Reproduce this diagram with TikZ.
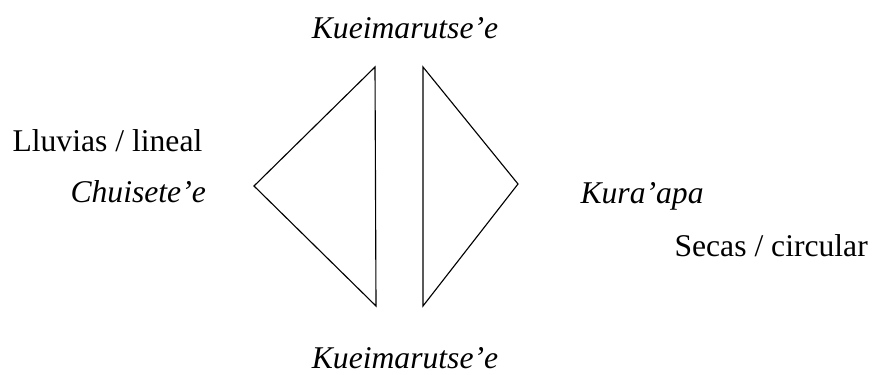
\documentclass[tikz,border=0pt]{standalone}
\usepackage{fontspec}
\setmainfont{Liberation Serif}
\usepackage{tikz}
\usetikzlibrary{positioning}

\begin{document}
\begin{tikzpicture}[line width=0.8pt,
  lbl/.style={inner sep=0pt,font=\fontsize{22.5}{27}\selectfont},
  ilbl/.style={lbl,font=\fontsize{22.5}{27}\selectfont\itshape}]
\useasboundingbox(0,0)rectangle(21.8,9.35);
% labels
\node[ilbl,anchor=base](top)at(10.125,8.375){Kueimarutse’e};
\node[ilbl,anchor=base](bot)at(10.125,0.14){Kueimarutse’e};
\node[lbl,anchor=base west](lluv)at(0.3,5.55){Lluvias / lineal};
\node[ilbl,anchor=base west](chui)at(1.75,4.3){Chuisete’e};
\node[ilbl,anchor=base west](kura)at(14.5,4.275){Kura’apa};
\node[lbl,anchor=base west](secas)at(16.85,2.95){Secas / circular};
% triangles
\coordinate(la)at(9.375,7.675);
\coordinate(lm)at(6.35,4.7);
\coordinate(lb)at(9.4,1.7);
\coordinate(ra)at(10.575,7.675);
\coordinate(rm)at(12.95,4.75);
\coordinate(rb)at(10.575,1.7);
\draw(la)--(lm)--(lb)--cycle;
\draw(ra)--(rm)--(rb)--cycle;
\end{tikzpicture}
\end{document}
